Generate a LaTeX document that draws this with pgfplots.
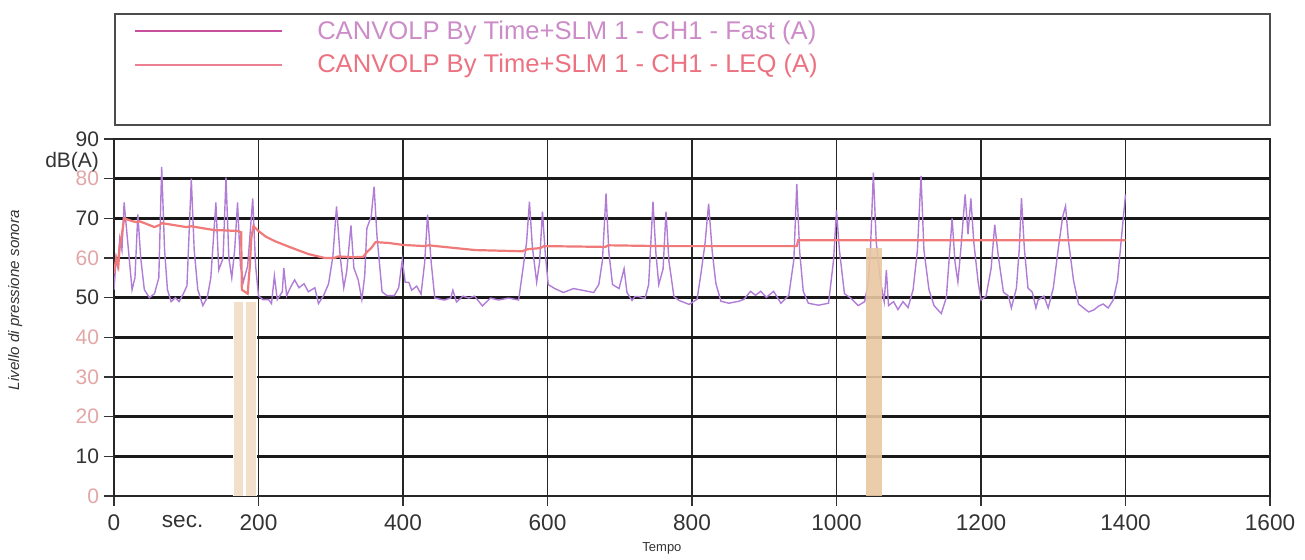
\documentclass[border=0pt]{standalone}
\usepackage{pgfplots}
\pgfplotsset{compat=1.18}
\usepackage{fontspec}
\setmainfont{Liberation Sans}
\definecolor{fastc}{HTML}{B07CD6}
\definecolor{leqc}{HTML}{F07A7A}
\definecolor{legA}{HTML}{C84E9E}
\definecolor{legB}{HTML}{EC8090}
\definecolor{txtA}{HTML}{CC8CC8}
\definecolor{txtB}{HTML}{EC7282}
\definecolor{tanc}{HTML}{E9C7A2}
\definecolor{pinklab}{HTML}{E3A6A6}
\definecolor{labgray}{HTML}{333333}
\begin{document}
\begin{tikzpicture}
\useasboundingbox (0,0) rectangle (652.5pt,280pt);
\draw[black!70, line width=0.7pt] (57.5pt,273pt) rectangle (635pt,217.5pt);
\begin{axis}[
  at={(57pt,32pt)}, anchor=south west,
  scale only axis, width=578pt, height=178.5pt,
  xmin=0, xmax=1600, ymin=0, ymax=90,
  xtick={0,200,...,1600}, ytick={0,10,...,90},
  yticklabels={\textcolor{pinklab}{0},10,\textcolor{pinklab}{20},\textcolor{pinklab}{30},\textcolor{pinklab}{40},50,\textcolor{pinklab}{60},70,\textcolor{pinklab}{80},90},
  /pgf/number format/assume math mode=true,
  /pgf/number format/1000 sep={},
  tick align=outside, major tick length=5pt,
  tick style={black!80, line width=0.6pt},
  xtick pos=bottom, ytick pos=left,
  xticklabel style={font=\fontsize{11.3}{12}\selectfont, text=labgray, yshift=-1pt},
  yticklabel style={font=\fontsize{10.5}{12}\selectfont, text=labgray, xshift=1pt},
  extra x ticks={95}, extra x tick labels={sec.},
  extra x tick style={major tick length=0pt, grid=none, xticklabel style={yshift=-5pt}},
  extra y ticks={84.3}, extra y tick labels={dB(A)},
  extra y tick style={major tick length=0pt, grid=none, yticklabel style={xshift=-5pt}},
  grid=major,
  x grid style={black!85, line width=0.7pt},
  y grid style={black!90, line width=1.2pt},
  axis line style={black!85, line width=0.7pt},
  xlabel={Tempo},
  xlabel style={at={(axis description cs:0.474,-0.148)}, anchor=center, font=\fontsize{6.5}{7}\selectfont, text=labgray},
  ylabel={Livello di pressione sonora},
  ylabel style={at={(axis description cs:-0.0855,0.549)}, anchor=center, font=\fontsize{7.6}{8}\selectfont\itshape, text=labgray},
  legend cell align=left,
  legend image code/.code={\draw[#1] (0pt,0pt) -- (73.5pt,0pt);},
  legend style={draw=none, fill=none, at={(axis description cs:0.012,1.355)}, anchor=north west,
    font=\fontsize{12.8}{14}\selectfont, row sep=2pt, column sep=15pt},
]
\addlegendimage{draw=legA, line width=1pt}
\addlegendentry{\textcolor{txtA}{CANVOLP By Time+SLM 1 - CH1 - Fast (A)}}
\addlegendimage{draw=legB, line width=1pt}
\addlegendentry{\textcolor{txtB}{CANVOLP By Time+SLM 1 - CH1 - LEQ (A)}}

\addplot[fastc, line width=0.7pt, forget plot] coordinates {
(0,52) (3,60) (5,58) (8,65) (11,62) (14,74) (18,66) (25,52) (29,55) (33,71) (37,60) (42,52)
(49,50) (56,51) (62,55) (66,83) (70,62) (74,52) (79,49) (85,50) (90,49) (96,51) (101,53)
(107,80) (111,62) (116,52) (123,48) (129,50) (134,55) (141,74) (145,57) (151,60) (155,80.3)
(159,60) (163,55) (167,62) (171,74) (175,58) (179,54) (185,58) (192,75) (196,58) (200,50.5)
(206,49.5) (214,49.5) (218,48.5) (222,55.5) (226,49.5) (233,51.5) (235,57.5) (239,50.5)
(244,52.5) (250,54.5) (256,52.5) (263,53.5) (269,51.5) (278,52.5) (283,48.5) (290,50.5)
(297,53.5) (303,60.5) (308,73) (313,60.5) (318,52.5) (322,56.5) (328,68.2) (332,57.5)
(338,54.5) (343,49.5) (347,55.5) (350,67.5) (356,70.5) (360,78) (364,65.5) (371,51.5)
(378,50.5) (388,50.5) (394,52.5) (399,59.5)
(403,53.9) (408,53.9) (412,51.9) (419,52.9) (425,50.9) (430,58.9) (434,70.9) (439,58.9)
(444,49.9) (457,49.4) (466,49.9) (469,51.9) (474,48.9) (483,50.4) (491,49.9) (499,50.4)
(510,47.9) (521,49.9) (532,49.4) (546,49.9) (560,49.4) (565,55.9) (571,63.9) (575,74.2)
(579,62.9) (585,53.9) (589,58.9) (593,71.7) (597,60.9)
(601,53.3) (610,52.3) (622,51.3) (636,52.3) (650,51.8) (664,51.3) (671,53.3) (676,59.3)
(681,76.3) (685,61.3) (690,53.3) (699,52.3) (706,57.3) (710,51.3) (717,49.3) (721,50.3)
(726,50.3) (735,49.8) (740,53.3) (746,74.2) (750,61.3) (754,53.3) (760,57.3) (764,71.7)
(768,59.3) (775,50.3) (782,49.3) (796,48.3)
(807,49.6) (812,55.6) (818,63.6) (823,73.7) (828,61.6) (833,53.6) (840,49.1) (851,48.6)
(865,49.1) (872,49.6) (881,51.6) (888,50.6) (895,51.6) (903,50.1) (913,51.6) (923,48.6)
(934,50.6) (941,59.6) (945,78.7) (949,61.6) (954,51.6) (961,48.6) (975,48.1) (989,48.6)
(996,59.6)
(1000,72) (1004,62) (1011,51) (1019,50) (1030,48) (1039,49) (1044,54) (1047,62) (1051,81.5)
(1055,64) (1061,54) (1066,49) (1069,57) (1072,48) (1079,49) (1085,47) (1092,49) (1099,47.5)
(1106,52) (1112,62) (1117,80.7) (1121,62) (1128,52) (1135,48) (1145,46) (1152,50) (1156,60)
(1160,70) (1164,59) (1168,54) (1172,62) (1178,76) (1182,66) (1186,75) (1190,64) (1196,54)
(1200,49.4) (1207,50.4) (1214,57.4) (1219,68.4) (1224,60.4) (1231,51.4) (1238,50.4)
(1242,47.4) (1249,52.4) (1253,62.4) (1256,75.1) (1260,62.4) (1265,52.4) (1271,51.4)
(1276,47.4) (1279,49.4) (1287,50.4) (1293,47.4) (1300,52.4) (1307,62.4) (1313,70.4)
(1317,73.1) (1321,64.4) (1328,54.4) (1335,48.4) (1342,47.4) (1349,46.4) (1356,46.9)
(1363,47.9) (1369,48.4) (1376,47.4) (1383,49.4) (1389,54.4) (1394,64.4) (1400,76)
};

\addplot[leqc, line width=1.1pt, forget plot] coordinates {
(0,56) (3,60) (6,58) (8,63) (11,66) (14,70) (25,69.3) (33,69) (35,69.3) (56,67.8) (64,68.4)
(66,68.8) (100,67.8) (107,68) (140,67) (150,67) (171,66.8) (176,66.5) (177,52) (185,51)
(188,58) (190,65) (193,68) (200,66.8) (210,65.4) (222,64.3) (244,62.7) (269,61) (292,60)
(305,60) (310,60.4) (330,60.2) (345,60.3) (350,61.5) (356,62.5) (362,64) (380,63.8)
(400,63.3) (430,63) (435,63.2) (500,62) (565,61.7) (572,62.2) (590,62.5) (595,63)
(680,62.8) (684,63.2) (760,63) (945,63) (947,64.5) (1400,64.5)
};

\addplot[fill=white, draw=none, forget plot] coordinates {(165,0) (165,49) (198,49) (198,0)} -- cycle;
\addplot[fill=tanc, draw=none, opacity=0.55, forget plot] coordinates {(166,0) (166,49) (178,49) (178,0)} -- cycle;
\addplot[fill=tanc, draw=none, opacity=0.55, forget plot] coordinates {(183,0) (183,49) (197,49) (197,0)} -- cycle;
\addplot[fill=tanc, draw=none, opacity=0.9, forget plot] coordinates {(1041,0) (1041,62.5) (1063,62.5) (1063,0)} -- cycle;
\end{axis}
\end{tikzpicture}
\end{document}
